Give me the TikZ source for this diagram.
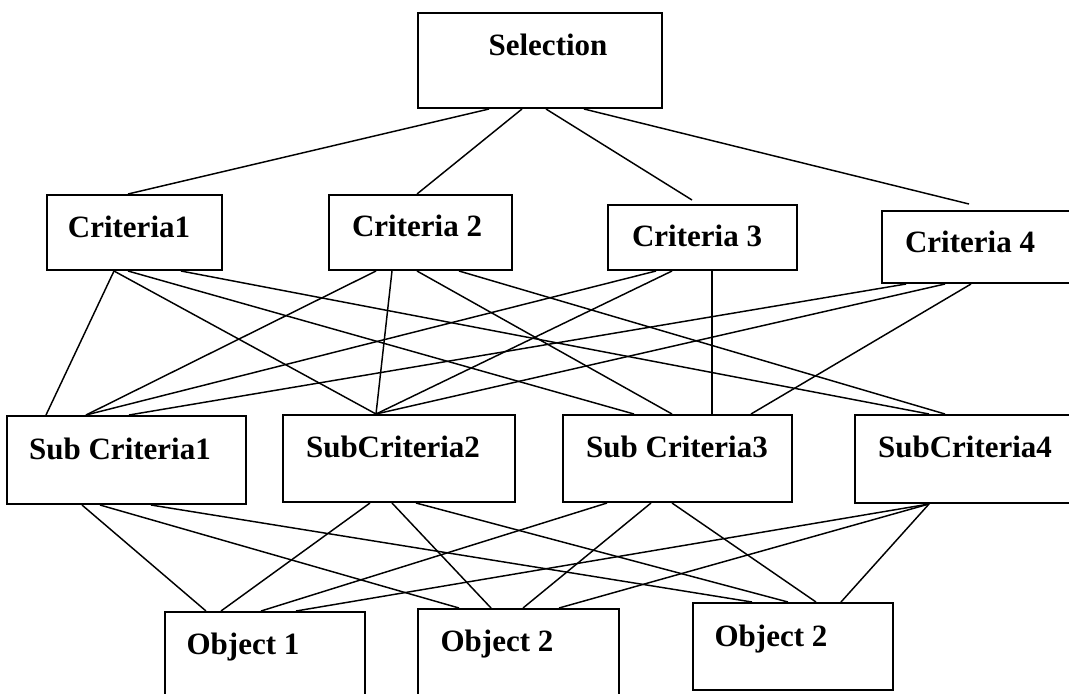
\documentclass[tikz,border=0pt]{standalone}
\usepackage{fontspec}
\setmainfont{Liberation Serif}
\usetikzlibrary{calc,fit}

\begin{document}
\begin{tikzpicture}[x=0.75pt,y=-0.75pt,
  box/.style={draw,line width=1.5pt,inner sep=0pt},
  lbl/.style={anchor=base,inner sep=0pt,font=\bfseries\fontsize{23.25}{28}\selectfont},
  link/.style={line width=1.1pt}]
\useasboundingbox (0,0) rectangle (1069,693);
\clip (0,0) rectangle (1069,693);
\foreach \n/\l/\t/\r/\b/\tx/\ty/\txt in {sel/418/13/662/108/548/55/Selection,
    cA/47/195/222/270/129/237/Criteria1, cB/329/195/512/270/417/236/Criteria 2,
    cC/608/205/797/270/697/246/Criteria 3, cD/882/211/1076/283/970/252/Criteria 4,
    sA/7/416/246/504/120/459/Sub Criteria1, sB/283/415/515/502/393/457/SubCriteria2,
    sC/563/415/792/502/677/457/Sub Criteria3, sD/855/415/1076/503/965/457/SubCriteria4,
    oA/165/612/365/702/243/654/Object 1, oB/418/609/619/702/497/651/Object 2,
    oC/693/603/893/690/771/646/Object 2} {
  \node[box,fit={(\l,\t) (\r,\b)}] (\n) {};
  \node[lbl] (\n-txt) at (\tx,\ty) {\txt};
}
\foreach \ax/\b/\bx/\by in {72/cA/82/0, 105/cB/89/0, 129/cC/85/-4, 167/cD/88/-6}
  \draw[link] ($(sel.south west)+(\ax,0)$) -- ($(\b.north west)+(\bx,\by)$);
\foreach \a/\ax/\b/\bx in {cA/68/sA/40, cA/68/sB/94, cA/82/sC/72, cA/135/sD/75,
    cB/48/sA/80, cB/64/sB/94, cB/89/sC/110, cB/131/sD/91,
    cC/49/sA/80, cC/65/sB/94, cC/105/sC/150,
    cD/25/sA/123, cD/64/sB/94, cD/90/sC/189,
    sA/76/oA/42, sA/94/oB/42, sA/145/oC/60,
    sB/88/oA/57, sB/110/oB/74, sB/134/oC/96,
    sC/45/oA/97, sC/89/oB/106, sC/110/oC/124,
    sD/75/oA/132, sD/75/oB/142, sD/75/oC/149}
  \draw[link] ($(\a.south west)+(\ax,0)$) -- ($(\b.north west)+(\bx,0)$);
\end{tikzpicture}
\end{document}
